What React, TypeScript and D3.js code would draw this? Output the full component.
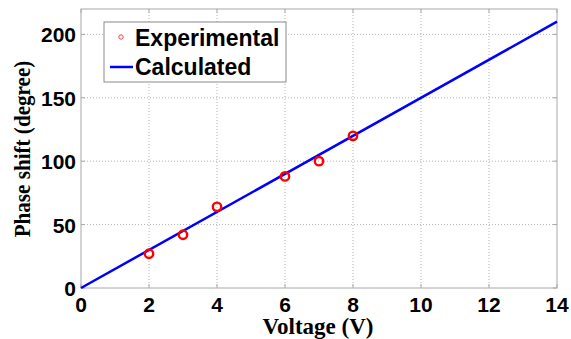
import { useEffect, useRef } from "react";
import * as d3 from "d3";

const voltages = [2, 3, 4, 6, 7, 8];
const phaseShifts = [27, 42, 64, 88, 100, 120];
const calcVoltages = [0, 14];
const calcPhase = [0, 210];
const xTicks = [0, 2, 4, 6, 8, 10, 12, 14];
const yTicks = [0, 50, 100, 150, 200];

export default function App() {
  const svgRef = useRef<SVGSVGElement>(null);

  const width = 571;
  const height = 339;
  const m = { left: 81, right: 14, top: 9, bottom: 51 };

  useEffect(() => {
    document.body.style.margin = "0";
    if (!svgRef.current) return;
    const svg = d3.select(svgRef.current);
    svg.selectAll("*").remove();

    const x = d3.scaleLinear().domain([0, 14]).range([m.left, width - m.right]);
    const y = d3.scaleLinear().domain([0, 220]).range([height - m.bottom, m.top]);

    const x0 = x(0), x1 = x(14), y0 = y(0), y1 = y(220);

    svg.append("rect").attr("width", width).attr("height", height).attr("fill", "white");

    // grid
    const grid = svg.append("g").attr("stroke", "#a0a0a0").attr("stroke-width", 0.8)
      .attr("stroke-dasharray", "1,2");
    grid.selectAll(".gx").data(xTicks.filter((d) => d > 0 && d < 14)).join("line")
      .attr("x1", (d) => x(d)).attr("x2", (d) => x(d)).attr("y1", y1).attr("y2", y0);
    grid.selectAll(".gy").data(yTicks.filter((d) => d > 0)).join("line")
      .attr("y1", (d) => y(d)).attr("y2", (d) => y(d)).attr("x1", x0).attr("x2", x1);

    // frame
    svg.append("rect").attr("x", x0).attr("y", y1).attr("width", x1 - x0).attr("height", y0 - y1)
      .attr("fill", "none").attr("stroke", "#a8a8a8").attr("stroke-width", 1);

    // inward ticks
    const tk = svg.append("g").attr("stroke", "#a8a8a8").attr("stroke-width", 1);
    xTicks.forEach((d) => {
      tk.append("line").attr("x1", x(d)).attr("x2", x(d)).attr("y1", y0).attr("y2", y0 - 4);
      tk.append("line").attr("x1", x(d)).attr("x2", x(d)).attr("y1", y1).attr("y2", y1 + 4);
    });
    yTicks.forEach((d) => {
      tk.append("line").attr("y1", y(d)).attr("y2", y(d)).attr("x1", x0).attr("x2", x0 + 4);
      tk.append("line").attr("y1", y(d)).attr("y2", y(d)).attr("x1", x1).attr("x2", x1 - 4);
    });

    const sans = "'Liberation Sans', Arial, sans-serif";
    const serif = "'Liberation Serif', 'Times New Roman', serif";

    svg.append("g").selectAll("text").data(xTicks).join("text")
      .attr("x", (d) => x(d)).attr("y", 312)
      .attr("text-anchor", "middle").attr("font-family", sans).attr("font-weight", "bold")
      .attr("font-size", 21).attr("fill", "#000").text((d) => d);

    svg.append("g").selectAll("text").data(yTicks).join("text")
      .attr("x", 76).attr("y", (d) => y(d) + 8)
      .attr("text-anchor", "end").attr("font-family", sans).attr("font-weight", "bold")
      .attr("font-size", 21).attr("fill", "#000").text((d) => d);

    svg.append("text").attr("x", (x0 + x1) / 2 - 1).attr("y", 334)
      .attr("text-anchor", "middle").attr("font-family", serif).attr("font-weight", "bold")
      .attr("font-size", 23).text("Voltage (V)");

    svg.append("text").attr("transform", `translate(30,149) rotate(-90) scale(0.88,1)`)
      .attr("text-anchor", "middle").attr("font-family", serif).attr("font-weight", "bold")
      .attr("font-size", 24).text("Phase shift (degree)");

    // calculated line
    const line = d3.line<number>().x((d) => x(d)).y((_, i) => y(calcPhase[i]));
    svg.append("path").datum(calcVoltages).attr("d", line).attr("fill", "none")
      .attr("stroke", "#0000ff").attr("stroke-width", 2.5);

    // experimental points
    svg.append("g").selectAll("circle").data(voltages).join("circle")
      .attr("cx", (d) => x(d)).attr("cy", (_, i) => y(phaseShifts[i])).attr("r", 4.2)
      .attr("fill", "none").attr("stroke", "#ff0000").attr("stroke-width", 2.4);

    // legend
    const lg = svg.append("g");
    lg.append("rect").attr("x", 104).attr("y", 22).attr("width", 182).attr("height", 60)
      .attr("fill", "white").attr("stroke", "#8a8a8a").attr("stroke-width", 1);
    lg.append("circle").attr("cx", 121).attr("cy", 37).attr("r", 2.2)
      .attr("fill", "none").attr("stroke", "#ff4040").attr("stroke-width", 1);
    lg.append("text").attr("x", 135).attr("y", 46).attr("font-family", sans)
      .attr("font-weight", "bold").attr("font-size", 23).text("Experimental");
    lg.append("line").attr("x1", 110).attr("x2", 133).attr("y1", 67).attr("y2", 67)
      .attr("stroke", "#0000ff").attr("stroke-width", 2.5);
    lg.append("text").attr("x", 135).attr("y", 75).attr("font-family", sans)
      .attr("font-weight", "bold").attr("font-size", 23).text("Calculated");
  }, []);

  return <svg ref={svgRef} width={width} height={height} style={{ display: "block" }} />;
}
